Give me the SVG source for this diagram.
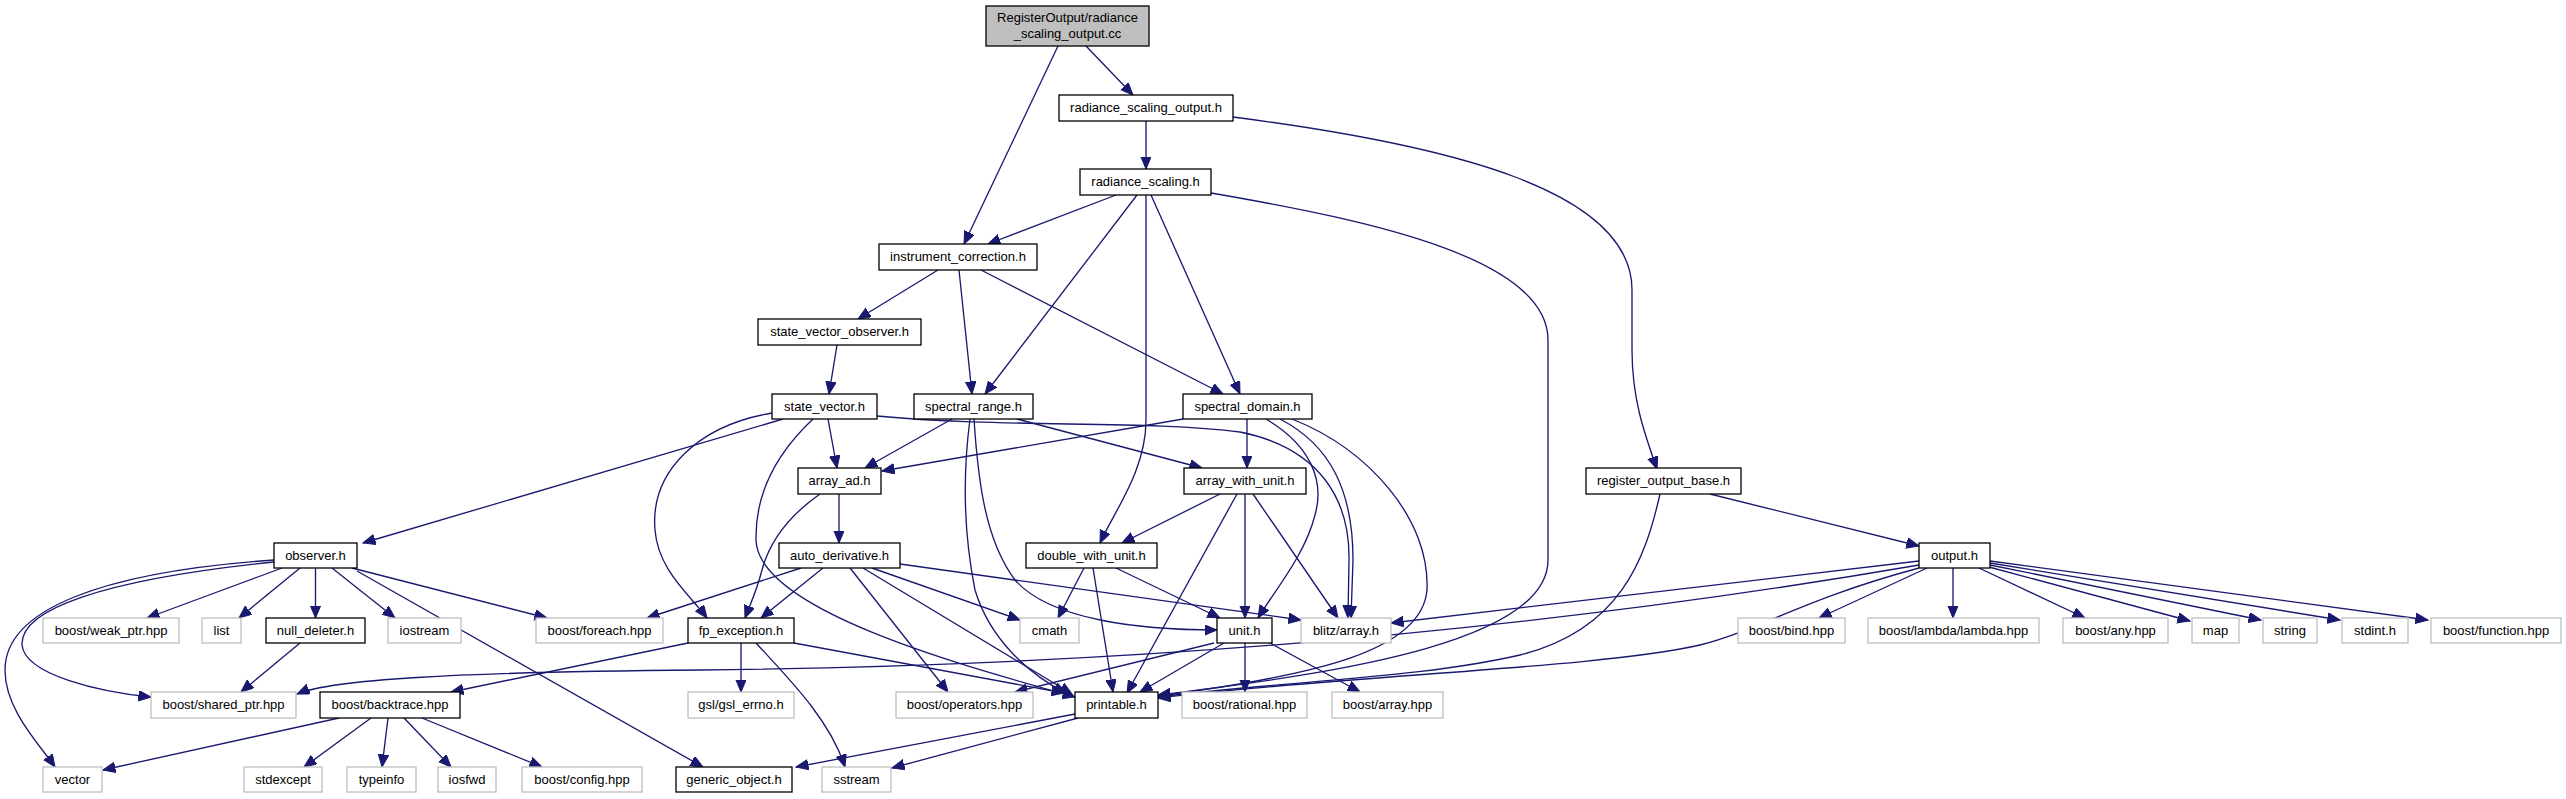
<svg xmlns="http://www.w3.org/2000/svg" width="2566" height="799" viewBox="0 0 2566 799">
<style>
.n rect{fill:#fff;stroke:#000;stroke-width:1.3}
.x rect{fill:#fff;stroke:#bfbfbf;stroke-width:1.3}
.r rect{fill:#bfbfbf;stroke:#000;stroke-width:1.3}
text{font-family:"Liberation Sans",Arial,Helvetica,sans-serif;font-size:13px;text-anchor:middle;fill:#000}
#edges path{fill:none;stroke:#191970;stroke-width:1.33;marker-end:url(#ah)}
</style>
<defs>
<marker id="ah" markerUnits="userSpaceOnUse" markerWidth="14" markerHeight="12" refX="12.5" refY="5.25" orient="auto">
<path d="M0,0 L12.5,5.25 L0,10.5 z" fill="#191970" stroke="#191970" stroke-width="1"/>
</marker>
</defs>
<rect width="2566" height="799" fill="#fff"/>
<g id="edges">
<path d="M1086,46 L1133,95"/>
<path d="M1058,46 L964,244"/>
<path d="M1146,121 L1146,169"/>
<path d="M1233,117 C1450,145 1632,190 1632,290 L1632,350 C1632,400 1645,435 1657,469"/>
<path d="M1116,195 L988,244"/>
<path d="M1137,195 L985,394"/>
<path d="M1146,195 L1146,420 C1146,470 1115,510 1100,543"/>
<path d="M1151,195 L1240,394"/>
<path d="M1211,193 C1380,222 1548,260 1548,340 L1548,560 C1548,640 1350,672 1158,695"/>
<path d="M938,270 L858,319"/>
<path d="M959,270 L972,394"/>
<path d="M981,270 L1223,394"/>
<path d="M837,345 L829,394"/>
<path d="M783,419 L363,543"/>
<path d="M772,413 C700,425 650,470 655,530 C658,570 690,595 707,618"/>
<path d="M828,419 L837,468"/>
<path d="M813,419 C780,450 755,490 756,540 C758,610 960,665 1075,697"/>
<path d="M877,416 C1000,428 1150,420 1240,432 C1320,448 1350,500 1349,560 L1348,618"/>
<path d="M952,419 L865,468"/>
<path d="M1017,419 L1202,468"/>
<path d="M970,419 C962,480 965,540 975,590 C990,640 1030,675 1066,693"/>
<path d="M974,419 C978,480 985,540 1015,580 C1050,620 1140,630 1217,630"/>
<path d="M1183,419 L882,471"/>
<path d="M1247,419 L1247,468"/>
<path d="M1266,419 C1310,445 1325,480 1315,515 C1305,555 1275,590 1258,618"/>
<path d="M1280,419 C1330,445 1353,490 1353,560 L1351,618"/>
<path d="M1292,419 C1370,450 1430,520 1427,590 C1422,650 1320,675 1158,696"/>
<path d="M839,494 L839,543"/>
<path d="M820,494 C790,515 770,540 762,570 C757,590 750,605 745,618"/>
<path d="M1220,494 L1122,543"/>
<path d="M1245,494 L1245,618"/>
<path d="M1237,494 L1127,693"/>
<path d="M1253,494 L1338,618"/>
<path d="M1710,494 L1919,546"/>
<path d="M1660,494 C1645,560 1620,630 1520,655 C1420,678 1300,680 1158,697"/>
<path d="M282,568 L147,618"/>
<path d="M300,568 L239,618"/>
<path d="M315.5,568 L315.5,618"/>
<path d="M332,568 L395,618"/>
<path d="M352,568 L547,618"/>
<path d="M357,571 L703,767"/>
<path d="M274,562 C100,580 20,610 22,645 C25,675 100,692 151,697"/>
<path d="M274,560 C100,572 5,610 5,670 C5,710 40,745 55,767"/>
<path d="M300,643 L241,692"/>
<path d="M688,643 L451,692"/>
<path d="M741,643 L741,692"/>
<path d="M756,643 C790,680 830,720 845,767"/>
<path d="M794,643 L1064,693"/>
<path d="M801,568 L647,618"/>
<path d="M823,568 L761,618"/>
<path d="M872,568 L1020,620"/>
<path d="M850,568 L948,692"/>
<path d="M863,568 L1072,694"/>
<path d="M900,564 L1301,620"/>
<path d="M1084,568 L1058,618"/>
<path d="M1093,568 L1113,692"/>
<path d="M1116,568 L1220,618"/>
<path d="M1214,643 L1015,692"/>
<path d="M1224,643 L1140,692"/>
<path d="M1245,643 L1245,692"/>
<path d="M1270,643 L1360,692"/>
<path d="M1919,561 L1391,623"/>
<path d="M1919,565 C1600,620 1200,665 700,670 C450,672 330,680 297,694"/>
<path d="M1919,568 C1800,600 1760,630 1700,645 C1600,668 1350,675 1158,698"/>
<path d="M1927,568 L1819,618"/>
<path d="M1953,568 L1953,618"/>
<path d="M1979,568 L2085,618"/>
<path d="M1989,567 L2190,621"/>
<path d="M1990,565 L2261,620"/>
<path d="M1990,563 L2340,620"/>
<path d="M1990,561 L2428,620"/>
<path d="M1075,714 L796,767"/>
<path d="M1078,718 L892,768"/>
<path d="M339,718 L103,770"/>
<path d="M371,718 L304,767"/>
<path d="M388,718 L382,767"/>
<path d="M404,718 L451,767"/>
<path d="M422,718 L542,767"/>
</g>
<g id="node_root" class="r"><rect x="986" y="6" width="163" height="40"/><text x="1067.5" y="21.5">RegisterOutput/radiance</text><text x="1067.5" y="37.5">_scaling_output.cc</text></g>
<g id="node_rso" class="n"><rect x="1059" y="95" width="174" height="26"/><text x="1146" y="112">radiance_scaling_output.h</text></g>
<g id="node_rs" class="n"><rect x="1080" y="169" width="131" height="26"/><text x="1145.5" y="186">radiance_scaling.h</text></g>
<g id="node_ic" class="n"><rect x="879" y="244" width="158" height="26"/><text x="958" y="261">instrument_correction.h</text></g>
<g id="node_svo" class="n"><rect x="758" y="319" width="163" height="26"/><text x="839.5" y="336">state_vector_observer.h</text></g>
<g id="node_sv" class="n"><rect x="772" y="394" width="105" height="25"/><text x="824.5" y="411">state_vector.h</text></g>
<g id="node_sr" class="n"><rect x="914" y="394" width="119" height="25"/><text x="973.5" y="411">spectral_range.h</text></g>
<g id="node_sd" class="n"><rect x="1183" y="394" width="129" height="25"/><text x="1247.5" y="411">spectral_domain.h</text></g>
<g id="node_aad" class="n"><rect x="798" y="468" width="83" height="26"/><text x="839.5" y="485">array_ad.h</text></g>
<g id="node_awu" class="n"><rect x="1184" y="468" width="122" height="26"/><text x="1245" y="485">array_with_unit.h</text></g>
<g id="node_rob" class="n"><rect x="1586" y="468" width="155" height="26"/><text x="1663.5" y="485">register_output_base.h</text></g>
<g id="node_obs" class="n"><rect x="274" y="543" width="83" height="25"/><text x="315.5" y="560">observer.h</text></g>
<g id="node_ad" class="n"><rect x="779" y="543" width="121" height="25"/><text x="839.5" y="560">auto_derivative.h</text></g>
<g id="node_dwu" class="n"><rect x="1026" y="543" width="131" height="25"/><text x="1091.5" y="560">double_with_unit.h</text></g>
<g id="node_out" class="n"><rect x="1919" y="543" width="71" height="25"/><text x="1954.5" y="560">output.h</text></g>
<g id="node_weak" class="x"><rect x="43" y="618" width="136" height="25"/><text x="111" y="635">boost/weak_ptr.hpp</text></g>
<g id="node_list" class="x"><rect x="202" y="618" width="39" height="25"/><text x="221.5" y="635">list</text></g>
<g id="node_nd" class="n"><rect x="266" y="618" width="99" height="25"/><text x="315.5" y="635">null_deleter.h</text></g>
<g id="node_iostream" class="x"><rect x="388" y="618" width="73" height="25"/><text x="424.5" y="635">iostream</text></g>
<g id="node_foreach" class="x"><rect x="536" y="618" width="127" height="25"/><text x="599.5" y="635">boost/foreach.hpp</text></g>
<g id="node_fp" class="n"><rect x="688" y="618" width="106" height="25"/><text x="741" y="635">fp_exception.h</text></g>
<g id="node_cmath" class="x"><rect x="1020" y="618" width="59" height="25"/><text x="1049.5" y="635">cmath</text></g>
<g id="node_unit" class="n"><rect x="1217" y="618" width="55" height="25"/><text x="1244.5" y="635">unit.h</text></g>
<g id="node_blitz" class="x"><rect x="1301" y="618" width="90" height="25"/><text x="1346" y="635">blitz/array.h</text></g>
<g id="node_bind" class="x"><rect x="1738" y="618" width="107" height="25"/><text x="1791.5" y="635">boost/bind.hpp</text></g>
<g id="node_lambda" class="x"><rect x="1868" y="618" width="171" height="25"/><text x="1953.5" y="635">boost/lambda/lambda.hpp</text></g>
<g id="node_any" class="x"><rect x="2063" y="618" width="105" height="25"/><text x="2115.5" y="635">boost/any.hpp</text></g>
<g id="node_map" class="x"><rect x="2192" y="618" width="47" height="25"/><text x="2215.5" y="635">map</text></g>
<g id="node_string" class="x"><rect x="2263" y="618" width="54" height="25"/><text x="2290" y="635">string</text></g>
<g id="node_stdint" class="x"><rect x="2342" y="618" width="66" height="25"/><text x="2375" y="635">stdint.h</text></g>
<g id="node_function" class="x"><rect x="2431" y="618" width="130" height="25"/><text x="2496" y="635">boost/function.hpp</text></g>
<g id="node_shared" class="x"><rect x="151" y="692" width="145" height="26"/><text x="223.5" y="709">boost/shared_ptr.hpp</text></g>
<g id="node_backtrace" class="n"><rect x="320" y="692" width="140" height="26"/><text x="390" y="709">boost/backtrace.hpp</text></g>
<g id="node_gsl" class="x"><rect x="688" y="692" width="106" height="26"/><text x="741" y="709">gsl/gsl_errno.h</text></g>
<g id="node_operators" class="x"><rect x="896" y="692" width="137" height="26"/><text x="964.5" y="709">boost/operators.hpp</text></g>
<g id="node_printable" class="n"><rect x="1075" y="692" width="83" height="26"/><text x="1116.5" y="709">printable.h</text></g>
<g id="node_rational" class="x"><rect x="1182" y="692" width="125" height="26"/><text x="1244.5" y="709">boost/rational.hpp</text></g>
<g id="node_barray" class="x"><rect x="1332" y="692" width="111" height="26"/><text x="1387.5" y="709">boost/array.hpp</text></g>
<g id="node_vector" class="x"><rect x="43" y="767" width="59" height="25"/><text x="72.5" y="784">vector</text></g>
<g id="node_stdexcept" class="x"><rect x="244" y="767" width="78" height="25"/><text x="283" y="784">stdexcept</text></g>
<g id="node_typeinfo" class="x"><rect x="347" y="767" width="69" height="25"/><text x="381.5" y="784">typeinfo</text></g>
<g id="node_iosfwd" class="x"><rect x="438" y="767" width="58" height="25"/><text x="467" y="784">iosfwd</text></g>
<g id="node_config" class="x"><rect x="522" y="767" width="120" height="25"/><text x="582" y="784">boost/config.hpp</text></g>
<g id="node_generic" class="n"><rect x="676" y="767" width="116" height="25"/><text x="734" y="784">generic_object.h</text></g>
<g id="node_sstream" class="x"><rect x="822" y="767" width="69" height="25"/><text x="856.5" y="784">sstream</text></g>
</svg>
